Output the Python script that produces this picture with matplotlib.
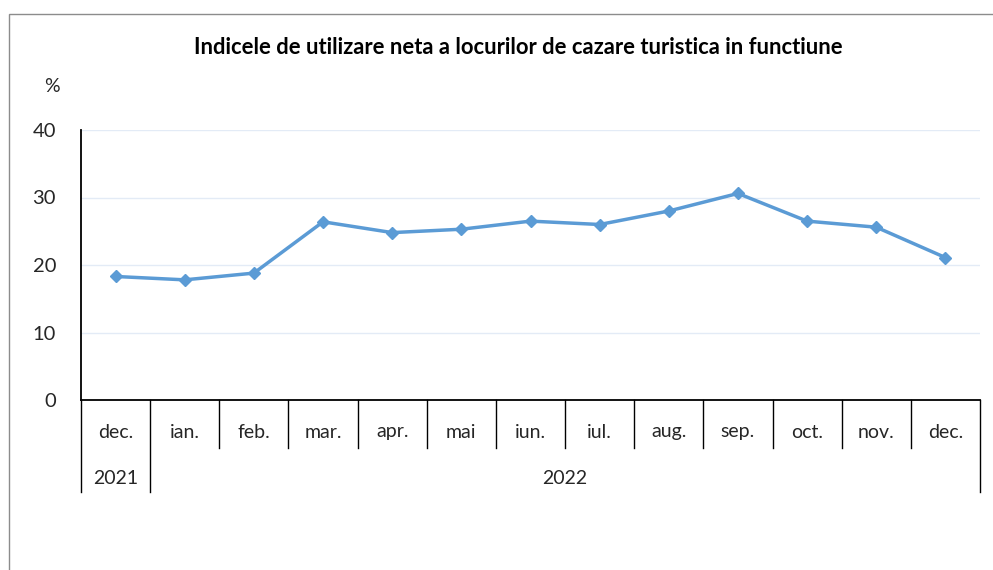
import matplotlib
matplotlib.use("Agg")
import matplotlib.pyplot as plt
from matplotlib.patches import Rectangle
from matplotlib.lines import Line2D

months = ["dec.", "ian.", "feb.", "mar.", "apr.", "mai", "iun.", "iul.", "aug.", "sep.", "oct.", "nov.", "dec."]
years = ["2021", "2022"]
year_spans = [(0, 0), (1, 12)]
values = [18.3, 17.8, 18.8, 26.4, 24.8, 25.3, 26.5, 26.0, 28.0, 30.6, 26.5, 25.6, 21.1]
yticks = [0, 10, 20, 30, 40]
title = "Indicele de utilizare neta a locurilor de cazare turistica in functiune"

plt.rcParams['font.family'] = ['Lato', 'DejaVu Sans']

W, H = 993, 570
fig = plt.figure(figsize=(W / 100, H / 100), dpi=100)

# outer frame
fig.patches.append(Rectangle((9 / W, -0.1), 2.0, (H - 14) / H + 0.1, transform=fig.transFigure,
                             fill=False, edgecolor="#8c8c8c", linewidth=1.0, zorder=0))

x0, x1, ytop, ybot = 81, 980, 130, 400
ax = fig.add_axes([x0 / W, (H - ybot) / H, (x1 - x0) / W, (ybot - ytop) / H])

xs = list(range(len(months)))
ax.plot(xs, values, color="#5B9BD5", linewidth=2.5, marker="D", markersize=6.5, zorder=3)

ax.set_xlim(-0.5, len(months) - 0.5)
ax.set_ylim(0, 40)
ax.set_yticks(yticks)
ax.set_yticklabels([str(v) for v in yticks], fontsize=14.5, color="#262626")
ax.tick_params(axis="y", length=0, pad=18)
ax.set_xticks([])
ax.grid(axis="y", color="#e3ebf6", linewidth=1.0)
ax.set_axisbelow(True)
for s in ["top", "right"]:
    ax.spines[s].set_visible(False)
ax.spines["left"].set_color("black")
ax.spines["bottom"].set_color("black")
ax.spines["left"].set_linewidth(1.3)
ax.spines["bottom"].set_linewidth(1.3)

trans = ax.get_xaxis_transform()
ph = ybot - ytop
month_depth = 48 / ph
year_depth = 92 / ph
# category separators
for i in range(len(months) + 1):
    xb = i - 0.5
    depth = month_depth
    if i in (0, 1, len(months)):
        depth = year_depth
    ax.add_line(Line2D([xb, xb], [0, -depth], transform=trans, color="black",
                       linewidth=1.0, clip_on=False))
for i, m in enumerate(months):
    ax.text(i, -32 / ph, m, transform=trans, ha="center", va="center", fontsize=14, color="#262626")
for (a, b), yname in zip(year_spans, years):
    ax.text((a + b) / 2, -78 / ph, yname, transform=trans, ha="center", va="center",
            fontsize=14, color="#262626")

fig.text(518 / W, (H - 48) / H, title, ha="center", va="center", fontsize=15.8,
         fontweight="bold", color="black")
fig.text(52 / W, (H - 86) / H, "%", ha="center", va="center", fontsize=14, color="#262626")

fig.savefig("out.png", dpi=100)
